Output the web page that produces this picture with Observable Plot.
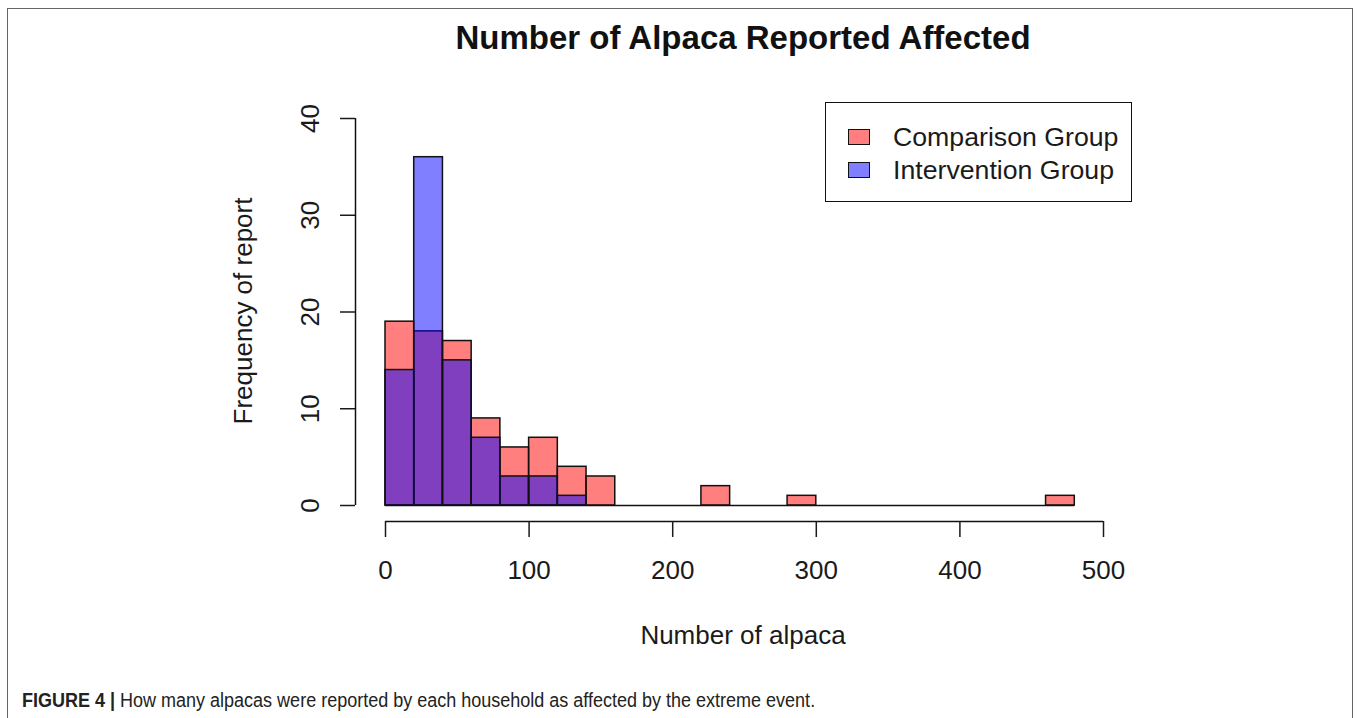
<!DOCTYPE html>
<html><head><meta charset="utf-8">
<script src="https://cdn.jsdelivr.net/npm/d3@7"></script>
<script src="https://cdn.jsdelivr.net/npm/@observablehq/plot@0.6"></script>
<style>
body{margin:0;background:#fff;}
#wrap{position:relative;width:1357px;height:718px;overflow:hidden;font-family:"Liberation Sans",Arial,sans-serif;color:#1a1a1a;background:#fff}
#frame{position:absolute;left:7px;top:8px;width:1346px;height:730px;border:1.5px solid #666;box-sizing:border-box}
#chart{position:absolute;left:0;top:0}
.t{position:absolute;white-space:nowrap;line-height:1}
#title{left:743px;top:21px;transform:translateX(-50%);font-weight:bold;font-size:33px;color:#111}
#xlab{left:743px;top:622px;transform:translateX(-50%);font-size:26px}
#ylab{left:243px;top:311px;transform:translate(-50%,-50%) rotate(-90deg);font-size:26px}
#legend{position:absolute;left:825px;top:102px;width:307px;height:100px;border:1.5px solid #111;box-sizing:border-box;background:#fff}
.sw{position:absolute;left:22px;width:22px;height:16px;border:1.5px solid #111;box-sizing:border-box}
.lt{position:absolute;left:67px;font-size:26.7px;line-height:1}
#caption{position:absolute;left:22px;top:690px;line-height:1;font-family:"Liberation Sans",Arial,sans-serif;font-size:20px;color:#222;white-space:nowrap;transform:scaleX(0.9);transform-origin:0 0}
#caption b{font-weight:bold}
</style>
</head><body>
<div id="wrap">
  <div id="frame"></div>
  <div id="chart"></div>
  <div class="t" id="title">Number of Alpaca Reported Affected</div>
  <div class="t" id="xlab">Number of alpaca</div>
  <div class="t" id="ylab">Frequency of report</div>
  <div id="legend"></div>
  <div id="caption"><b>FIGURE 4 |</b> How many alpacas were reported by each household as affected by the extreme event.</div>
</div>
<script>
const binStarts = [0,20,40,60,80,100,120,140,160,180,200,220,240,260,280,300,320,340,360,380,400,420,440,460];
const binWidth = 20;
const comparisonCounts = [19,18,17,9,6,7,4,3,0,0,0,2,0,0,1,0,0,0,0,0,0,0,0,1];
const interventionCounts = [14,36,15,7,3,3,1];
const seriesNames = ["Comparison Group","Intervention Group"];
const seriesColors = ["rgba(255,0,0,0.5)","rgba(0,0,255,0.5)"];
const xTicks = [0,100,200,300,400,500];
const yTicks = [0,10,20,30,40];

const comparison = comparisonCounts.map((c,i)=>({x1:binStarts[i], x2:binStarts[i]+binWidth, count:c}));
const intervention = interventionCounts.map((c,i)=>({x1:binStarts[i], x2:binStarts[i]+binWidth, count:c}));

const plot = Plot.plot({
  width:1357, height:650,
  marginLeft:385, marginRight:254, marginTop:118, marginBottom:145,
  style:{fontFamily:"'Liberation Sans', Arial, sans-serif", fontSize:"26px", color:"#1a1a1a", background:"transparent"},
  x:{domain:[0,500]},
  y:{domain:[0,40]},
  marks:[
    Plot.ruleY([0],{x1:0, x2:binStarts[binStarts.length-1]+binWidth, stroke:"#111", strokeWidth:1.5}),
    Plot.rectY(comparison.filter(d=>d.count>0),{x1:"x1", x2:"x2", y:"count", fill:seriesColors[0], stroke:"#111", strokeWidth:1.5}),
    Plot.rectY(intervention.filter(d=>d.count>0),{x1:"x1", x2:"x2", y:"count", fill:seriesColors[1], stroke:"#111", strokeWidth:1.5}),
    Plot.ruleX([0],{y1:0, y2:40, dx:-30, stroke:"#111", strokeWidth:1.5}),
    Plot.ruleY([0],{x1:0, x2:500, dy:16, stroke:"#111", strokeWidth:1.5}),
    Plot.axisY({ticks:yTicks, tickSize:15, tickPadding:22, tickRotate:-90, dx:-30, label:null, strokeWidth:1.5, fontSize:26}),
    Plot.axisX({ticks:xTicks, tickSize:16, tickPadding:23, dy:16, label:null, strokeWidth:1.5, fontSize:26})
  ]
});
document.getElementById("chart").appendChild(plot);

const legend = document.getElementById("legend");
seriesNames.forEach((n,i)=>{
  const top = [26,59][i];
  const sw = document.createElement("div");
  sw.className="sw"; sw.style.top=top+"px"; sw.style.background=seriesColors[i];
  legend.appendChild(sw);
  const t = document.createElement("div");
  t.className="lt"; t.style.top=(top-5)+"px"; t.textContent=n;
  legend.appendChild(t);
});
</script>
</body></html>
